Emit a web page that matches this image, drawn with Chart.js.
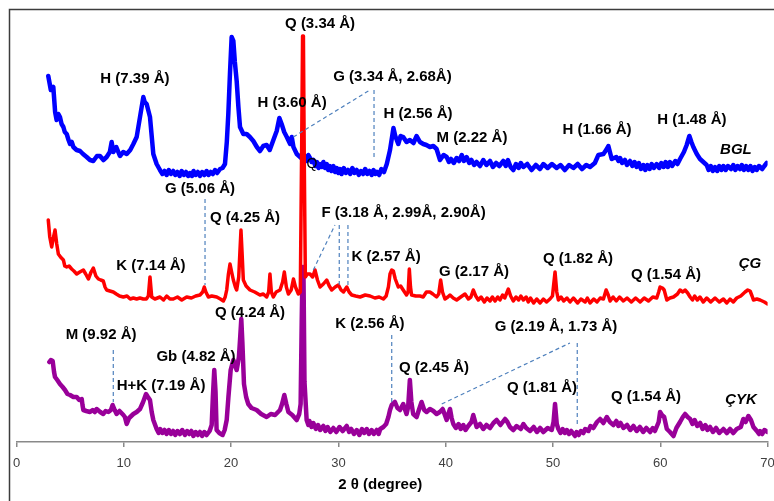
<!DOCTYPE html>
<html>
<head>
<meta charset="utf-8">
<script src="https://cdn.jsdelivr.net/npm/chart.js@4.4.1/dist/chart.umd.min.js"></script>
<style>
  html, body { margin: 0; padding: 0; background: #fff; }
  #wrap { width: 774px; height: 501px; position: relative; }
</style>
</head>
<body>
<div id="wrap"><canvas id="xrd"></canvas></div>
<script>
// 2-theta positions (degree) and intensities (offset, arbitrary units)
const bglTheta = [
  2.96,3.2,3.43,3.6,3.74,3.9,4.05,4.2,4.37,4.5,4.68,4.85,4.99,5.15,5.3,5.6,5.92,6.2,6.54,6.85,7.16,7.5,7.78,8.1,8.4,8.7,8.87,9.02,9.3,9.64,9.95,10.27,10.6,10.89,11.2,11.51,11.82,11.95,12.13,12.44,12.75,13.06,
  13.37,13.6,13.8,13.99,14.2,14.4,14.61,14.8,15.0,15.2,15.4,15.6,15.8,16.0,16.17,16.35,16.5,16.7,16.9,17.1,17.3,17.5,17.72,17.9,18.1,18.3,18.5,18.7,18.97,
  19.2,19.43,19.6,19.74,19.9,20.05,20.21,20.35,20.52,20.68,20.83,21.14,21.45,21.75,22.07,22.4,22.69,23.0,23.31,23.6,23.94,24.25,24.5,24.71,24.95,25.19,25.5,25.65,25.81,26.12,26.43,
  26.74,26.9,27.05,27.2,27.36,27.5,27.67,27.85,28.0,28.15,28.29,28.45,28.6,28.75,28.91,29.05,29.2,29.35,29.53,29.7,29.85,30.0,30.16,30.3,30.5,30.7,30.9,31.1,31.3,31.5,31.71,31.9,32.1,32.3,32.5,32.7,32.9,33.1,33.27,33.45,33.6,33.8,34.0,34.25,34.51,
  34.81,35.13,35.3,35.58,35.8,36.04,36.35,36.66,37.0,37.29,37.6,37.91,38.2,38.53,38.85,39.15,39.47,39.8,
  40.09,40.3,40.5,40.75,41.02,41.25,41.5,41.7,41.95,42.2,42.4,42.65,42.88,43.2,43.5,43.8,44.13,44.4,44.7,45.0,45.37,45.6,45.8,46.05,46.3,46.55,46.8,47.0,47.24,47.6,48.0,48.4,48.79,49.1,49.5,49.9,50.34,50.7,51.1,51.5,51.9,52.3,52.7,53.1,53.45,
  53.9,54.23,54.7,54.95,55.16,55.47,
  55.9,56.1,56.25,56.45,56.7,56.9,57.18,57.4,57.6,57.8,58.0,58.2,58.42,58.6,58.8,59.0,59.2,59.4,59.66,59.9,60.1,60.3,60.5,60.7,60.9,61.1,61.4,61.6,61.84,
  62.2,62.46,62.71,62.9,63.08,63.4,63.7,
  64.32,64.5,64.7,64.9,65.1,65.3,65.5,65.7,65.88,66.1,66.3,66.6,66.8,67.0,67.2,67.43,67.6,67.8,68.0,68.2,68.4,68.6,68.8,68.98,69.2,69.5,69.7,69.92];
const bglInt = [
  366,352,355,330,322,328,325,318,315,310,308,302,298,300,295,292,291,288,285,282,281,286,286,282,285,290,300,290,295,286,290,288,292,298,305,325,345,340,338,325,288,278,
  272,268,271,267,272,268,271,267,270,266,271,267,270,266,269,266,271,267,270,266,270,267,271,267,270,268,272,269,273,
  274,278,300,328,370,405,401,380,361,335,315,308,308,305,301,295,291,296,297,292,302,311,324,318,310,305,298,305,295,288,285,
  282,286,281,287,284,280,282,276,280,274,278,275,280,274,278,272,276,271,276,270,274,269,273,268,274,269,272,268,274,269,272,267,271,268,273,268,271,267,272,268,270,267,273,270,278,
  292,314,306,298,306,305,300,302,299,306,300,298,297,295,296,293,282,287,
  285,280,283,279,284,281,287,281,285,279,282,277,280,276,282,277,281,275,279,276,281,276,282,275,272,278,274,279,275,278,272,277,273,278,274,278,274,277,272,277,274,278,273,277,275,
  279,287,288,292,296,283,
  285,281,284,279,282,277,281,276,280,275,279,273,277,272,277,273,278,274,278,274,279,275,280,275,280,276,281,278,283,
  290,297,306,300,295,288,283,
  277,272,276,271,275,271,276,272,276,272,276,273,277,272,276,273,277,272,276,272,276,271,275,272,276,273,276,279];

const cgTheta = [
  2.96,3.1,3.28,3.45,3.59,3.75,3.9,4.1,4.37,4.5,4.68,4.9,5.14,5.35,5.61,5.9,6.23,6.45,6.7,6.95,7.16,7.4,7.63,7.85,8.09,8.25,8.4,8.7,9.02,9.3,9.6,9.96,10.3,10.6,10.89,11.2,11.5,11.82,12.1,12.29,12.44,12.6,12.9,
  13.37,13.7,14.0,14.3,14.61,15.0,15.4,15.86,16.3,16.7,17.1,17.35,17.5,17.65,17.88,18.2,18.66,19.0,19.28,19.45,19.59,19.75,19.9,20.05,20.21,20.4,20.52,20.71,20.82,20.92,21.02,21.14,21.4,21.76,22.2,22.69,23.0,23.31,23.5,23.62,23.75,23.94,24.2,24.56,24.8,24.96,25.15,25.34,25.6,25.81,26.0,26.27,26.45,26.58,26.66,26.74,26.82,26.92,
  27.1,27.36,27.6,27.82,28.05,28.29,28.6,28.91,29.15,29.38,29.7,30.0,30.25,30.47,30.78,31.0,31.24,31.6,32.02,32.5,32.95,33.4,33.8,34.19,34.45,34.66,34.81,34.97,35.12,35.3,35.58,35.8,36.04,36.35,36.5,36.61,36.72,36.82,37.2,37.6,37.9,38.2,38.53,38.8,39.15,39.35,39.53,39.7,39.93,40.2,40.4,40.7,41.02,41.4,41.8,42.11,42.35,42.57,42.8,
  43.04,43.3,43.6,43.85,44.13,44.35,44.6,44.85,45.06,45.3,45.5,45.84,46.05,46.3,46.55,46.8,47.0,47.24,47.5,47.7,47.9,48.2,48.48,48.8,49.1,49.4,49.72,49.95,50.19,50.35,
  50.5,50.75,51.0,51.3,51.59,51.9,52.3,52.6,53.0,53.2,53.45,53.8,54.1,54.4,54.7,54.95,55.15,55.32,55.6,55.9,56.2,56.56,56.9,57.3,57.7,58.12,58.5,58.9,59.3,59.67,
  59.85,59.98,60.2,60.36,60.61,60.9,61.23,61.6,61.84,62.1,62.31,62.55,
  62.78,63.0,63.2,63.45,63.7,64.0,64.33,64.7,65.1,65.5,65.88,66.2,66.5,66.8,67.12,
  67.5,67.9,68.15,68.37,68.55,68.68,69.0,69.3,69.7,70.0];
const cgInt = [
  222,205,195,205,212,198,188,185,182,176,175,176,173,171,168,170,172,168,163,170,174,166,163,162,161,155,152,151,150,148,146,145,146,143,144,143,144,143,143,146,165,145,143,
  145,142,146,143,143,145,142,145,144,146,147,150,155,150,145,146,145,143,141,145,152,168,178,170,162,155,152,165,190,212,190,162,156,152,150,147,148,145,150,168,150,145,150,152,160,170,155,148,152,163,155,148,150,300,406,406,280,165,
  168,168,165,172,162,155,158,162,156,152,155,157,152,150,155,150,147,146,145,147,146,144,145,143,146,155,168,172,171,163,155,156,152,147,150,173,155,147,146,146,145,150,150,148,145,148,162,150,143,145,147,144,142,145,148,143,145,152,146,
  142,145,140,144,141,145,141,145,142,147,144,153,146,141,145,142,146,142,145,140,144,139,143,139,143,140,143,146,170,150,
  142,145,141,144,140,144,139,143,140,144,139,143,140,144,143,152,147,141,145,141,145,141,144,140,144,140,144,141,145,144,
  150,155,154,152,142,144,145,148,152,150,152,149,
  145,142,146,142,145,140,144,140,144,140,143,139,143,140,144,
  146,150,152,151,146,142,143,142,140,138];

const cykTheta = [
  3.06,3.2,3.37,3.5,3.59,3.8,4.05,4.3,4.52,4.75,4.99,5.3,5.61,5.85,6.08,6.15,6.23,6.5,6.85,7.1,7.3,7.47,7.8,8.09,8.3,8.56,8.8,8.96,9.15,9.33,9.6,9.96,10.1,10.27,10.5,10.89,11.2,11.51,11.8,12.07,12.25,12.44,12.6,12.75,
  13.06,13.25,13.4,13.6,13.8,13.99,14.2,14.4,14.6,14.8,15.0,15.23,15.45,15.7,15.9,16.1,16.3,16.48,16.7,16.9,17.1,17.3,17.5,17.72,
  18.0,18.19,18.3,18.43,18.55,18.65,18.9,19.21,19.4,19.59,19.75,19.96,20.21,20.4,20.52,20.73,20.85,20.95,21.05,21.2,21.4,21.6,21.9,22.38,22.8,23.31,23.7,24.1,24.56,24.75,24.96,25.15,25.34,25.7,26.11,26.35,26.48,26.58,26.66,26.74,26.84,
  27.04,27.2,27.3,27.5,27.67,27.9,28.1,28.3,28.6,28.8,29.0,29.25,29.53,29.8,30.1,30.4,30.78,31.0,31.2,31.45,31.71,31.95,32.2,32.4,32.64,32.85,33.1,33.3,33.57,33.75,33.9,
  34.19,34.45,34.66,34.81,34.97,35.27,35.5,35.74,36.04,36.35,36.5,36.66,36.8,36.97,37.29,37.5,37.75,38.0,38.22,38.53,38.85,39.15,39.45,39.72,40.09,40.25,40.4,40.55,40.71,
  40.95,41.2,41.4,41.64,41.85,42.1,42.4,42.57,42.75,42.88,43.2,43.5,43.8,44.13,44.45,44.75,45.1,45.53,45.75,45.99,46.3,46.61,47.0,47.24,47.5,47.86,48.2,48.5,48.8,49.1,49.5,49.88,
  50.05,50.19,50.35,50.5,50.7,50.9,51.1,51.28,51.5,51.7,52.05,52.2,52.4,52.6,52.83,53.0,53.3,53.5,53.76,54.1,54.39,54.7,55.01,55.3,55.63,55.9,56.1,56.3,56.56,56.9,57.2,57.5,57.8,58.1,58.4,58.7,59.05,59.3,59.5,
  59.85,59.98,60.15,60.36,60.61,60.9,61.23,61.5,61.84,62.1,62.31,62.55,62.78,63.0,63.2,63.45,63.71,63.95,64.2,64.4,64.64,64.9,65.2,65.5,65.88,66.2,66.5,66.8,67.12,
  67.5,67.74,67.95,68.21,68.45,68.68,69.0,69.2,69.3,69.5,69.7,70.0];
const cykInt = [
  80,82,81,70,65,62,58,55,52,48,47,45,45,42,43,37,32,31,30,32,30,33,30,28,31,30,32,37,32,28,31,27,25,18,24,28,30,33,40,48,45,42,30,22,
  13,9,13,9,12,8,12,8,11,7,11,8,12,7,11,8,11,6,10,7,10,6,10,7,
  11,17,45,72,50,12,9,7,12,22,45,72,82,76,72,85,105,123,100,58,45,38,34,32,28,25,28,27,32,38,47,38,30,27,22,28,38,120,175,175,60,
  22,17,21,15,19,13,17,12,16,11,15,10,14,10,15,11,16,10,13,8,12,7,13,9,13,8,12,8,12,8,13,
  15,18,25,32,37,40,34,32,38,28,35,62,40,28,25,32,40,32,30,33,31,28,30,33,22,28,33,24,18,
  14,18,13,17,12,16,20,27,20,15,18,13,17,14,19,22,17,23,20,15,12,16,13,18,14,11,15,10,14,10,14,12,
  20,38,18,13,9,13,9,12,8,11,6,10,7,11,9,13,11,16,14,20,23,19,25,20,17,21,16,19,14,17,12,16,11,15,10,14,10,14,11,
  20,30,27,25,13,10,6,14,20,25,28,25,23,18,22,16,19,13,17,12,15,10,14,9,13,9,13,9,13,
  15,23,20,26,22,15,11,8,11,8,12,10];

// peak labels: text, 2-theta, intensity level
const noteText = ["Q (3.34 Å)","H (7.39 Å)","H (3.60 Å)","G (3.34 Å, 2.68Å)","H (2.56 Å)","M (2.22 Å)","H (1.66 Å)","H (1.48 Å)",
  "G (5.06 Å)","Q (4.25 Å)","F (3.18 Å, 2.99Å, 2.90Å)","K (7.14 Å)","K (2.57 Å)","G (2.17 Å)","Q (1.82 Å)","Q (1.54 Å)",
  "Q (4.24 Å)","K (2.56 Å)","G (2.19 Å, 1.73 Å)","M (9.92 Å)","Gb (4.82 Å)","H+K (7.19 Å)","Q (2.45 Å)","Q (1.81 Å)","Q (1.54 Å)"];
const noteX = [28.29,11.04,25.68,35.04,37.42,42.45,54.10,62.95, 17.10,21.30,36.07,12.53,34.44,42.64,52.33,60.53, 21.76,32.94,50.28,7.88,16.73,13.47,38.91,48.97,58.67];
const noteY = [418,363,339,365,328,304,312,322, 253,224,229,176,185,170,183,167, 129,118,115,107,85,56,74,54,45];

// sample names
const sampleNames = ["BGL","ÇG","ÇYK"];
const sampleX = [67.05,68.36,67.52];
const sampleY = [292,178,42];

// dashed leader lines [theta1, y1, theta2, y2]
const leaders = [
  [25.80,305,32.94,352],[33.32,352,33.32,282],
  [17.57,243,17.57,157],
  [27.66,172,29.68,217],[30.08,217,30.08,157],[30.89,217,30.89,155],
  [9.02,92,9.02,40],
  [34.97,107,34.97,39],
  [39.63,38,51.58,99],[52.26,99,52.26,15]
];

const pts = (xs, ys) => xs.map((x, i) => ({x: x, y: ys[i]}));

const notes = {
  id: 'notes',
  afterDatasetsDraw(chart) {
    const {ctx, scales: {x, y}} = chart;
    ctx.save();
    ctx.strokeStyle = '#4f81bd';
    ctx.lineWidth = 1.2;
    ctx.setLineDash([4, 3]);
    leaders.forEach(l => {
      ctx.beginPath();
      ctx.moveTo(x.getPixelForValue(l[0]), y.getPixelForValue(l[1]));
      ctx.lineTo(x.getPixelForValue(l[2]), y.getPixelForValue(l[3]));
      ctx.stroke();
    });
    ctx.setLineDash([]);
    ctx.fillStyle = '#000';
    ctx.textAlign = 'center';
    ctx.textBaseline = 'middle';
    ctx.font = 'bold 15px "Liberation Sans", Arial, sans-serif';
    noteText.forEach((t, i) => {
      ctx.fillText(t, x.getPixelForValue(noteX[i]), y.getPixelForValue(noteY[i]));
    });
    ctx.font = 'italic bold 15px "Liberation Sans", Arial, sans-serif';
    sampleNames.forEach((t, i) => {
      ctx.fillText(t, x.getPixelForValue(sampleX[i]), y.getPixelForValue(sampleY[i]));
    });
    ctx.font = '14px "Liberation Sans", Arial, sans-serif';
    ctx.fillText("Q", x.getPixelForValue(27.54), y.getPixelForValue(278));
    // axis title
    ctx.font = 'bold 15px "Liberation Sans", Arial, sans-serif';
    ctx.fillText("2 θ (degree)", x.getPixelForValue(33.9), 485);
    ctx.restore();
  },
  afterDraw(chart) {
    const ctx = chart.ctx;
    ctx.save();
    ctx.strokeStyle = '#3c3c3c';
    ctx.lineWidth = 1.5;
    ctx.strokeRect(9.5, 9.5, 800, 520);
    ctx.restore();
  }
};

new Chart(document.getElementById('xrd'), {
  type: 'line',
  data: {
    datasets: [
      {label: 'ÇG', data: pts(cgTheta, cgInt), borderColor: '#ff0000', borderWidth: 3.5, order: 0},
      {label: 'ÇYK', data: pts(cykTheta, cykInt), borderColor: '#990099', borderWidth: 4.5, order: 1},
      {label: 'BGL', data: pts(bglTheta, bglInt), borderColor: '#0000ff', borderWidth: 4.5, order: 2}
    ]
  },
  options: {
    responsive: true,
    maintainAspectRatio: false,
    animation: false,
    devicePixelRatio: 1,
    layout: {padding: {top: 20, left: 16.5, right: 6.4, bottom: 0}},
    elements: {
      point: {radius: 0},
      line: {tension: 0, borderJoinStyle: 'round', borderCapStyle: 'round'}
    },
    plugins: {legend: {display: false}, tooltip: {enabled: false}},
    scales: {
      x: {
        type: 'linear',
        min: 0,
        max: 70,
        ticks: {stepSize: 10, color: '#404040', padding: 9, font: {size: 13, family: '"Liberation Sans", Arial, sans-serif'}},
        grid: {drawOnChartArea: false, drawTicks: true, tickLength: 5, color: '#898989', lineWidth: 1.5},
        border: {display: true, color: '#898989', width: 1.5},
        afterFit(s) { s.height = 59; s.paddingLeft = 0; s.paddingRight = 0; }
      },
      y: {display: false, min: 0, max: 422}
    }
  },
  plugins: [notes]
});
</script>
</body>
</html>
